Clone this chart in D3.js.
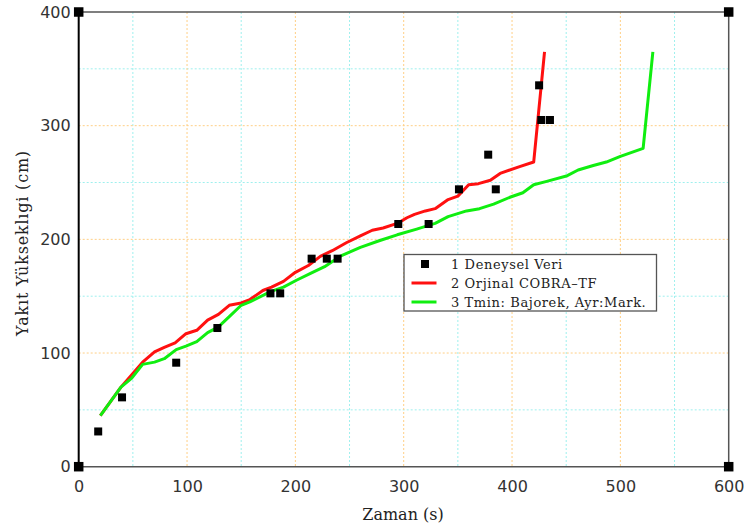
<!DOCTYPE html>
<html>
<head>
<meta charset="utf-8">
<script src="https://cdn.jsdelivr.net/npm/d3@7/dist/d3.min.js"></script>
<style>
  html, body { margin: 0; padding: 0; background: #fff; }
  svg { display: block; }
</style>
</head>
<body>
<svg id="chart" width="749" height="528"></svg>
<script>
// Measured fuel level (Deneysel Veri)
const expTime  = [18, 40, 90, 128, 177, 186, 215, 229, 239, 295, 323, 351, 378, 385, 425, 427, 435];
const expLevel = [31, 61, 91.5, 122, 152.5, 152.5, 183, 183, 183, 213.5, 213.5, 244, 274.5, 244, 335.5, 305, 305];

// Original COBRA-TF prediction
const cobraTime  = [20, 39, 50, 59, 70, 79, 89, 99, 109, 119, 129, 139, 150, 158, 170, 178, 189, 200, 212, 223, 234, 247, 260, 271, 281, 294, 303, 310, 320, 329, 341, 350, 360, 369, 380, 389, 407, 420, 430];
const cobraLevel = [45, 70, 82, 92, 101, 105, 109, 117, 120, 129, 134, 142, 144, 147, 155, 158, 163, 171, 177, 185, 190, 197, 203, 208, 210, 214, 219, 222, 225, 227, 235, 238, 248, 249, 252, 258, 264, 268, 365];

// Tmin: Bajorek, Ayr:Mark. prediction
const tminTime  = [20, 39, 49, 59, 70, 79, 90, 99, 109, 119, 129, 139, 150, 158, 177, 189, 201, 214, 227, 241, 260, 278, 294, 312, 329, 341, 358, 370, 383, 398, 410, 420, 432, 451, 461, 475, 487, 500, 521, 530];
const tminLevel = [45, 70, 78, 90, 92, 95, 103, 106, 110, 118, 123, 132, 142, 145, 154, 158, 164, 170, 176, 185, 193, 199, 204, 209, 214, 220, 225, 227, 231, 237, 241, 248, 251, 256, 261, 265, 268, 273, 280, 365];

// Axis ticks and frame corner markers
const xTicks = [0, 100, 200, 300, 400, 500, 600];
const yTicks = [0, 100, 200, 300, 400];
const xMinor = [50, 150, 250, 350, 450, 550];
const yMinor = [50, 150, 250, 350];
const cornerX = [0, 0, 600, 600];
const cornerY = [0, 400, 0, 400];

const legendLabels = ["1 Deneysel Veri", "2 Orjinal COBRA\u2013TF", "3 Tmin: Bajorek, Ayr:Mark."];

const svg = d3.select("#chart");
const L = 78.7, R = 728.7, T = 12, B = 466.7;

const x = d3.scaleLinear().domain([0, 600]).range([L, R]);
const y = d3.scaleLinear().domain([0, 400]).range([B, T]);

// grid: minor (cyan) then major (orange)
const grid = svg.append("g");
grid.selectAll(".xmin").data(xMinor).enter().append("line")
  .attr("x1", d => x(d)).attr("x2", d => x(d)).attr("y1", T).attr("y2", B)
  .attr("stroke", "#9ff0ee").attr("stroke-width", 1).attr("stroke-dasharray", "2,2");
grid.selectAll(".ymin").data(yMinor).enter().append("line")
  .attr("y1", d => y(d)).attr("y2", d => y(d)).attr("x1", L).attr("x2", R)
  .attr("stroke", "#9ff0ee").attr("stroke-width", 1).attr("stroke-dasharray", "2,2");
grid.selectAll(".xmaj").data(xTicks.slice(1, -1)).enter().append("line")
  .attr("x1", d => x(d)).attr("x2", d => x(d)).attr("y1", T).attr("y2", B)
  .attr("stroke", "#ffcf85").attr("stroke-width", 1).attr("stroke-dasharray", "2,2");
grid.selectAll(".ymaj").data(yTicks.slice(1, -1)).enter().append("line")
  .attr("y1", d => y(d)).attr("y2", d => y(d)).attr("x1", L).attr("x2", R)
  .attr("stroke", "#ffcf85").attr("stroke-width", 1).attr("stroke-dasharray", "2,2");

// frame
svg.append("line").attr("x1", L).attr("x2", R).attr("y1", T).attr("y2", T).attr("stroke", "#555").attr("stroke-width", 1.5);
svg.append("line").attr("x1", R).attr("x2", R).attr("y1", T).attr("y2", B).attr("stroke", "#555").attr("stroke-width", 1.5);
svg.append("line").attr("x1", L).attr("x2", R).attr("y1", B).attr("y2", B).attr("stroke", "#555").attr("stroke-width", 1.5);
svg.append("line").attr("x1", L).attr("x2", L).attr("y1", T).attr("y2", B).attr("stroke", "#000").attr("stroke-width", 2);

// axes (labels only, no tick marks)
const xAxis = svg.append("g").attr("transform", `translate(0,${B})`)
  .call(d3.axisBottom(x).tickValues(xTicks).tickSize(0).tickPadding(14).tickFormat(d3.format("d")));
const yAxis = svg.append("g").attr("transform", `translate(${L},0)`)
  .call(d3.axisLeft(y).tickValues(yTicks).tickSize(0).tickPadding(8).tickFormat(d3.format("d")));
[xAxis, yAxis].forEach(a => {
  a.select(".domain").remove();
  a.selectAll("text").attr("font-family", "DejaVu Sans").attr("font-size", 16).attr("fill", "#333");
});

// axis titles
svg.append("text").attr("x", 403).attr("y", 520).attr("text-anchor", "middle")
  .attr("font-family", "DejaVu Serif").attr("font-size", 16).attr("fill", "#222")
  .text("Zaman (s)");
svg.append("text").attr("transform", "translate(28,243) rotate(-90)").attr("text-anchor", "middle")
  .attr("font-family", "DejaVu Serif").attr("font-size", 16).attr("letter-spacing", 0.8).attr("fill", "#222")
  .text("Yak\u0131t Y\u00fckseklıgi (cm)");

// series lines
const line = d3.line().x(d => x(d[0])).y(d => y(d[1]));
svg.append("path").datum(d3.zip(cobraTime, cobraLevel)).attr("d", line)
  .attr("fill", "none").attr("stroke", "#ff1010").attr("stroke-width", 3).attr("stroke-linejoin", "round");
svg.append("path").datum(d3.zip(tminTime, tminLevel)).attr("d", line)
  .attr("fill", "none").attr("stroke", "#10ee10").attr("stroke-width", 3).attr("stroke-linejoin", "round");

// measured points
const sq = 8;
svg.selectAll(".pt").data(d3.zip(expTime, expLevel)).enter().append("rect")
  .attr("x", d => x(d[0]) - sq / 2).attr("y", d => y(d[1]) - sq / 2)
  .attr("width", sq).attr("height", sq).attr("fill", "#000");

// frame corner markers
const cs = 9.5;
svg.selectAll(".corner").data(d3.zip(cornerX, cornerY)).enter().append("rect")
  .attr("x", d => x(d[0]) - cs / 2).attr("y", d => y(d[1]) - cs / 2)
  .attr("width", cs).attr("height", cs).attr("fill", "#000");

// legend
const lg = svg.append("g");
lg.append("rect").attr("x", 404).attr("y", 254.5).attr("width", 252.5).attr("height", 56.5)
  .attr("fill", "#fff").attr("stroke", "#555").attr("stroke-width", 1.3);
const rowY = [264, 283, 302];
lg.append("rect").attr("x", 421).attr("y", rowY[0] - 4).attr("width", 8).attr("height", 8).attr("fill", "#000");
lg.append("line").attr("x1", 411.5).attr("x2", 436.5).attr("y1", rowY[1]).attr("y2", rowY[1])
  .attr("stroke", "#ff1010").attr("stroke-width", 3);
lg.append("line").attr("x1", 411.5).attr("x2", 436.5).attr("y1", rowY[2]).attr("y2", rowY[2])
  .attr("stroke", "#10ee10").attr("stroke-width", 3);
lg.selectAll(".lt").data(legendLabels).enter().append("text")
  .attr("x", 451).attr("y", (d, i) => rowY[i] + 5)
  .attr("font-family", "DejaVu Serif").attr("font-size", 13).attr("letter-spacing", 0.6).attr("fill", "#222")
  .text(d => d);
</script>
</body>
</html>
